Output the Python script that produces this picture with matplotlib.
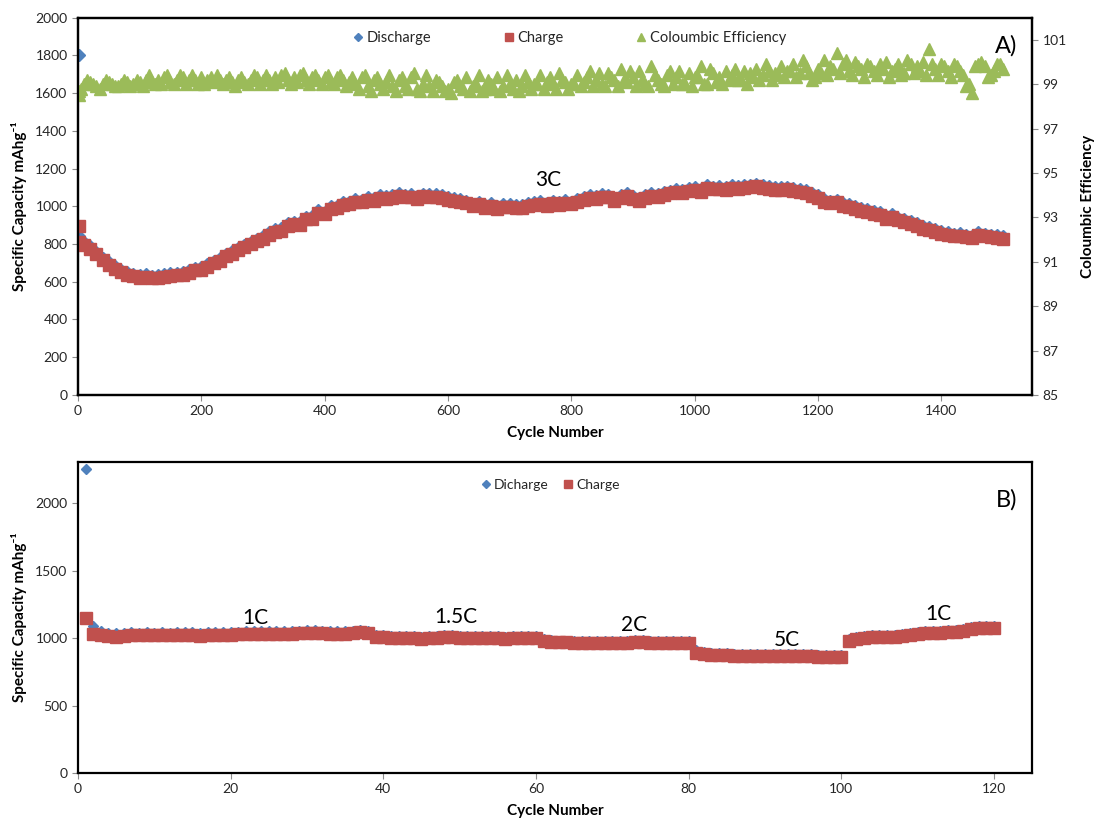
import matplotlib
matplotlib.use("Agg")
import matplotlib.pyplot as plt
from matplotlib.lines import Line2D

plt.rcParams['font.family'] = ['Lato', 'DejaVu Sans']

# ---- panel A: long cycling at 3C (every 10th cycle) ----
cyc_a = [1, 2] + list(range(10, 1501, 10))

charge_a = [
    895, 810,
    795, 775, 745, 715, 690, 670, 650, 638, 628, 622,
    625, 620, 622, 626, 630, 635, 634, 648, 660, 662,
    680, 698, 712, 735, 748, 768, 782, 798, 815, 825,
    848, 862, 870, 895, 905, 900, 930, 935, 965, 958,
    985, 990, 1005, 1010, 1025, 1020, 1035, 1030, 1042, 1040,
    1045, 1055, 1048, 1050, 1040, 1052, 1050, 1048, 1045, 1035,
    1030, 1022, 1015, 1000, 1010, 990, 1002, 985, 998, 995,
    990, 992, 1000, 1005, 1012, 1000, 1015, 1005, 1018, 1010,
    1022, 1035, 1045, 1040, 1050, 1048, 1030, 1045, 1055, 1040,
    1030, 1045, 1055, 1050, 1060, 1068, 1075, 1070, 1080, 1085,
    1078, 1095, 1090, 1092, 1088, 1095, 1090, 1098, 1100, 1105,
    1095, 1092, 1088, 1085, 1090, 1080, 1075, 1070, 1055, 1045,
    1025, 1015, 1020, 1000, 995, 985, 975, 970, 960, 955,
    935, 945, 925, 915, 905, 895, 880, 875, 865, 855,
    850, 840, 845, 835, 830, 850, 840, 835, 832, 825,
]

discharge_a = [
    1800, 840,
    808, 790, 760, 728, 702, 684, 662, 652, 640, 636,
    640, 633, 637, 640, 645, 648, 649, 662, 674, 676,
    694, 710, 727, 748, 762, 780, 797, 812, 828, 840,
    862, 877, 884, 910, 918, 916, 944, 950, 978, 972,
    1000, 1003, 1020, 1024, 1040, 1034, 1050, 1044, 1057, 1055,
    1060, 1070, 1062, 1066, 1055, 1067, 1064, 1063, 1060, 1050,
    1045, 1036, 1030, 1014, 1024, 1005, 1016, 1000, 1012, 1010,
    1004, 1007, 1015, 1020, 1026, 1015, 1030, 1020, 1032, 1025,
    1037, 1050, 1060, 1054, 1064, 1062, 1045, 1060, 1070, 1055,
    1045, 1060, 1070, 1064, 1075, 1083, 1090, 1085, 1095, 1100,
    1093, 1110, 1104, 1107, 1103, 1110, 1105, 1112, 1115, 1120,
    1110, 1106, 1103, 1100, 1104, 1095, 1090, 1084, 1070, 1060,
    1040, 1030, 1034, 1015, 1010, 1000, 990, 984, 975, 970,
    950, 960, 940, 930, 920, 910, 895, 890, 880, 870,
    865, 855, 860, 850, 845, 864, 855, 850, 846, 840,
]

ce_a = [
    98.5, 98.7,
    99.0, 99.1, 98.9, 99.0, 99.1, 98.9, 99.0, 99.1, 99.0, 99.1,
    99.2, 99.1, 99.2, 99.3, 99.1, 99.2, 99.3, 99.2, 99.2, 99.3,
    99.2, 99.1, 99.2, 99.2, 99.1, 99.2, 99.1, 99.2, 99.3, 99.2,
    99.2, 99.3, 99.4, 99.2, 99.3, 99.4, 99.2, 99.3, 99.2, 99.3,
    99.1, 99.3, 99.2, 99.1, 99.0, 99.3, 98.9, 99.2, 99.0, 99.1,
    98.9, 99.2, 98.9, 99.3, 98.8, 99.0, 98.9, 99.2, 98.9, 98.8,
    99.1, 98.9, 99.3, 98.9, 99.4, 98.8, 99.0, 99.3, 98.9, 99.0,
    99.2, 98.9, 99.1, 99.0, 99.4, 99.1, 99.0, 99.5, 99.1, 99.0,
    99.4, 99.1, 99.6, 99.2, 99.0, 99.5, 99.2, 99.7, 99.1, 99.3,
    99.6, 99.0, 99.8, 99.2, 98.9, 99.6, 99.3, 99.0, 99.5, 99.3,
    99.8, 99.0, 99.5, 99.3, 99.6, 99.4, 99.2, 99.6, 99.5, 99.7,
    99.4, 99.6, 99.5, 99.8, 99.6, 99.9, 99.5, 99.8, 99.2, 99.7,
    100.1, 99.8, 100.4, 99.9, 99.6, 100.0, 99.7, 99.9, 99.6, 99.9,
    100.0, 99.6, 99.9, 99.5, 99.9, 99.8, 100.0, 100.6, 99.7, 99.9,
    99.6, 99.9, 99.6, 98.9, 98.6, 99.9, 99.8, 99.4, 99.9, 99.7,
]

# the efficiency scatter is dense, so the in-between cycles are read too
cyc_a_mid = list(range(5, 1500, 10))

ce_a_mid = [
    98.8, 99.2, 99.0, 98.8, 99.2, 99.0, 98.9, 99.2, 98.9, 99.2,
    98.9, 99.4, 99.0, 99.0, 99.4, 99.0, 99.4, 99.0, 99.4, 99.0,
    99.0, 99.3, 99.4, 99.0, 99.3, 98.9, 99.3, 99.0, 99.4, 99.0,
    99.4, 99.0, 99.1, 99.5, 99.0, 99.1, 99.5, 99.0, 99.4, 99.0,
    99.4, 99.0, 99.4, 98.9, 99.3, 98.8, 99.4, 98.7, 99.3, 98.8,
    99.4, 98.7, 99.3, 98.8, 99.5, 98.7, 99.4, 98.7, 99.1, 98.7,
    98.6, 99.2, 98.8, 98.7, 99.0, 98.7, 99.2, 98.8, 98.7, 99.4,
    98.8, 98.7, 99.4, 98.8, 99.0, 98.8, 99.3, 98.8, 99.2, 98.8,
    99.0, 98.9, 99.3, 98.9, 99.5, 98.9, 99.3, 98.9, 99.2, 99.6,
    98.9, 99.2, 98.9, 99.4, 99.0, 99.4, 99.0, 99.6, 99.0, 98.9,
    99.3, 99.0, 99.7, 99.1, 99.0, 99.2, 99.7, 99.2, 99.0, 99.3,
    99.2, 99.9, 99.2, 99.4, 99.3, 99.6, 99.3, 100.1, 99.5, 99.3,
    99.5, 99.4, 99.7, 99.5, 100.1, 99.4, 99.8, 99.3, 99.8, 99.4,
    99.7, 99.3, 99.7, 99.4, 100.1, 99.5, 99.6, 99.4, 99.9, 99.4,
    99.8, 99.3, 99.8, 99.4, 99.0, 99.8, 100.0, 99.3, 99.6, 99.9,
]

# ---- panel B: rate capability ----
cyc_b = list(range(1, 121))

charge_b = [
    1150, 1030, 1020, 1015, 1010, 1015, 1020, 1020, 1020, 1020,
    1022, 1020, 1022, 1025, 1025, 1018, 1020, 1025, 1025, 1020,
    1028, 1030, 1030, 1030, 1030, 1030, 1032, 1030, 1035, 1040,
    1040, 1035, 1030, 1030, 1032, 1040, 1042, 1040, 1010, 1005,
    1000, 1000, 1000, 998, 992, 1000, 1002, 1008, 1005, 1002,
    1000, 1000, 1000, 1000, 998, 992, 1000, 1000, 1000, 998,
    980, 970, 968, 968, 965, 965, 965, 965, 965, 965,
    965, 965, 970, 972, 965, 965, 965, 965, 965, 965,
    888, 880, 878, 875, 872, 868, 868, 868, 868, 868,
    868, 868, 868, 868, 868, 865, 860, 860, 860, 860,
    975, 995, 1000, 1005, 1010, 1010, 1010, 1015, 1025, 1030,
    1035, 1040, 1040, 1045, 1045, 1055, 1070, 1075, 1075, 1075,
]

discharge_b = [
    2250, 1090, 1050, 1040, 1035, 1038, 1045, 1040, 1042, 1040,
    1042, 1040, 1042, 1045, 1048, 1040, 1042, 1046, 1045, 1042,
    1048, 1050, 1050, 1050, 1050, 1050, 1052, 1050, 1055, 1058,
    1058, 1054, 1050, 1050, 1052, 1056, 1058, 1056, 1025, 1020,
    1015, 1015, 1015, 1014, 1010, 1016, 1018, 1022, 1020, 1018,
    1016, 1016, 1016, 1016, 1014, 1010, 1016, 1016, 1016, 1014,
    995, 985, 982, 982, 980, 980, 980, 980, 980, 980,
    980, 980, 985, 987, 980, 980, 980, 980, 980, 980,
    915, 895, 892, 888, 886, 882, 882, 882, 882, 882,
    882, 882, 882, 882, 882, 880, 875, 875, 875, 875,
    990, 1010, 1015, 1020, 1025, 1025, 1025, 1030, 1040, 1045,
    1050, 1055, 1055, 1060, 1060, 1070, 1085, 1090, 1090, 1090,
]

rate_labels = ['1C', '1.5C', '2C', '5C', '1C']
rate_x = [23.3, 49.5, 72.9, 92.9, 112.7]
rate_y = [1150, 1155, 1100, 985, 1180]

BLUE = '#4F81BD'
RED = '#C0504D'
GREEN = '#9BBB59'
TXT = '#262626'


def style_axes(ax):
    for sp in ax.spines.values():
        sp.set_linewidth(1.6)
        sp.set_color('black')
    ax.tick_params(direction='out', length=4, width=0.8, color='#8c8c8c',
                   labelsize=10, labelcolor=TXT)


fig = plt.figure(figsize=(10.98, 8.31), dpi=100)

# ---------------- panel A ----------------
ax1 = fig.add_axes([0.0710, 0.5247, 0.8689, 0.4542])
ax1.plot(cyc_a, discharge_a, 'D', color=BLUE, ms=6, ls='none', zorder=2)
ax1.plot(cyc_a, charge_a, 's', color=RED, ms=9, ls='none', zorder=3)
ax1.set_xlim(0, 1547)
ax1.set_ylim(0, 2000)
ax1.set_xticks(range(0, 1401, 200))
ax1.set_yticks(range(0, 2001, 200))
ax1.set_xlabel('Cycle Number', fontsize=11, fontweight='bold', labelpad=6)
ax1.set_ylabel('Specific Capacity mAhg⁻¹', fontsize=11, fontweight='bold', labelpad=6)
style_axes(ax1)

ax1b = ax1.twinx()
ax1b.plot(cyc_a, ce_a, '^', color=GREEN, ms=9, ls='none')
ax1b.plot(cyc_a_mid, ce_a_mid, '^', color=GREEN, ms=9, ls='none')
ax1b.set_ylim(85, 102)
ax1b.set_yticks(range(85, 102, 2))
ax1b.set_ylabel('Coloumbic Efficiency', fontsize=11, fontweight='bold', labelpad=10)
style_axes(ax1b)

ax1.text(762, 1140, '3C', fontsize=15, ha='center', va='center', color='black')
ax1.text(0.985, 0.925, 'A)', transform=ax1.transAxes, fontsize=17,
         ha='right', va='center')

handles_a = [
    Line2D([], [], marker='D', color=BLUE, ls='none', ms=4.5),
    Line2D([], [], marker='s', color=RED, ls='none', ms=6),
    Line2D([], [], marker='^', color=GREEN, ls='none', ms=6),
]
ax1.legend(handles_a, ['Discharge', 'Charge', 'Coloumbic Efficiency'],
           loc='upper center', bbox_to_anchor=(0.515, 1.0), ncol=3,
           frameon=False, fontsize=10.5, handlelength=0.8,
           handletextpad=0.2, columnspacing=4.9, labelcolor=TXT)

# ---------------- panel B ----------------
ax2 = fig.add_axes([0.0710, 0.0698, 0.8689, 0.3742])
ax2.plot(cyc_b, discharge_b, 'D', color=BLUE, ms=5.5, ls='none', zorder=2)
ax2.plot(cyc_b, charge_b, 's', color=RED, ms=8, ls='none', zorder=3)
ax2.set_xlim(0, 125)
ax2.set_ylim(0, 2305)
ax2.set_xticks(range(0, 121, 20))
ax2.set_yticks(range(0, 2001, 500))
ax2.set_xlabel('Cycle Number', fontsize=11, fontweight='bold', labelpad=6)
ax2.set_ylabel('Specific Capacity mAhg⁻¹', fontsize=11, fontweight='bold', labelpad=6)
style_axes(ax2)

for lab, x, y in zip(rate_labels, rate_x, rate_y):
    ax2.text(x, y, lab, fontsize=15, ha='center', va='center', color='black')
ax2.text(0.985, 0.88, 'B)', transform=ax2.transAxes, fontsize=17,
         ha='right', va='center')

handles_b = [
    Line2D([], [], marker='D', color=BLUE, ls='none', ms=4.5),
    Line2D([], [], marker='s', color=RED, ls='none', ms=6),
]
ax2.legend(handles_b, ['Dicharge', 'Charge'],
           loc='upper center', bbox_to_anchor=(0.495, 0.985), ncol=2,
           frameon=False, fontsize=10, handlelength=0.8,
           handletextpad=0.2, columnspacing=1.0, labelcolor=TXT)

fig.savefig('out.png', dpi=100)
